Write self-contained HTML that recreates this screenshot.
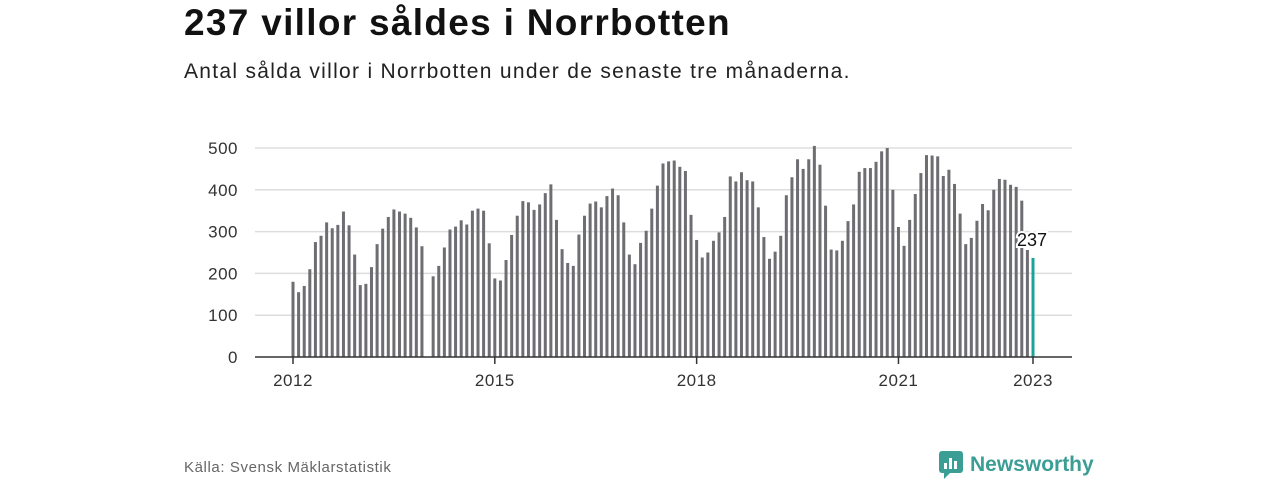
<!DOCTYPE html>
<html><head><meta charset="utf-8"><style>
body{margin:0;width:1280px;height:480px;background:#fff;font-family:"Liberation Sans",sans-serif;overflow:hidden;position:relative}
.t{position:absolute;left:184px;top:2px;font-size:37px;font-weight:bold;color:#111;letter-spacing:1.3px}
.s{position:absolute;left:184px;top:60px;font-size:21px;color:#222;letter-spacing:1.3px}
.src{position:absolute;left:184px;top:459px;font-size:15px;color:#666;letter-spacing:0.6px}
</style></head><body>
<div class="t">237 villor såldes i Norrbotten</div>
<div class="s">Antal sålda villor i Norrbotten under de senaste tre månaderna.</div>
<svg id="c" width="1280" height="480" style="position:absolute;left:0;top:0"></svg>
<div class="src">Källa: Svensk Mäklarstatistik</div>
<div style="position:absolute;left:938px;top:450px;display:flex;align-items:center">
<svg width="26" height="30"><rect x="1" y="1" width="24" height="22" rx="3" fill="#3a9e95"/><path d="M6 23 L6 29 L12 23Z" fill="#3a9e95"/><rect x="6" y="13" width="3" height="6" fill="#fff"/><rect x="11" y="8" width="3" height="11" fill="#fff"/><rect x="16" y="11" width="3" height="8" fill="#fff"/></svg>
<span style="font-size:21px;font-weight:bold;color:#3a9e95;margin-left:6px">Newsworthy</span></div>
<script>
const values2012=[180,155,170,210,275,290,322,308,316,348,315,245];
const values2013=[172,175,215,270,307,335,353,348,343,333,310,265];
const values2014=[null,193,218,262,305,312,327,317,350,355,350,272];
const values2015=[188,183,232,292,338,373,370,352,365,392,413,328];
const values2016=[258,225,218,293,338,367,372,358,385,403,387,322];
const values2017=[245,222,273,302,355,410,463,468,470,455,445,340];
const values2018=[280,238,250,278,298,335,432,420,442,423,420,358];
const values2019=[287,235,252,290,387,430,473,450,473,505,460,362];
const values2020=[257,255,278,325,365,443,452,452,467,492,500,400];
const values2021=[311,266,328,390,440,483,482,480,433,448,414,343];
const values2022=[270,285,326,366,351,400,426,424,412,407,374,256];
const values2023=[237];
const yTicks=[0,100,200,300,400,500];
const xTickYears=[2012,2015,2018,2021,2023];
const values=[].concat(values2012,values2013,values2014,values2015,values2016,values2017,values2018,values2019,values2020,values2021,values2022,values2023);
const svg=document.getElementById('c');const NS='http://www.w3.org/2000/svg';
const y=v=>357-v*0.418;
const x=i=>293+i*(740/132);
function mk(t,a){const e=document.createElementNS(NS,t);for(const k in a)e.setAttribute(k,a[k]);svg.appendChild(e);return e;}
yTicks.forEach(v=>{
 if(v>0){const g=mk('line',{x1:255,x2:1072,y1:y(v),y2:y(v),stroke:'#ddd','stroke-width':1.5});
 
 }
 const t=mk('text',{x:238,y:y(v)+6,'text-anchor':'end','font-size':17,fill:'#333','font-family':'Liberation Sans','letter-spacing':0.5});t.textContent=v;
 
 
});
values.forEach((v,i)=>{if(v==null)return;
 const last=i===values.length-1;
 const r=mk('rect',{x:x(i)-1.5,y:y(v),width:3,height:357-y(v),fill:last?'#1aa39a':'#6d6d72'});
 
 
});
const ax=mk('line',{x1:255,x2:1072,y1:357,y2:357,stroke:'#333','stroke-width':1.5});


xTickYears.forEach(yr=>{const i=(yr-2012)*12;
 const tk=mk('line',{x1:x(i),x2:x(i),y1:357,y2:364,stroke:'#333','stroke-width':1.5});
 
 
 const t=mk('text',{x:x(i),y:386,'text-anchor':'middle','font-size':17,fill:'#333','font-family':'Liberation Sans','letter-spacing':0.5});t.textContent=yr;
 
 
});
const li=values.length-1;
const lb=mk('text',{x:x(li)-1,y:y(values[li])-12,'text-anchor':'middle','font-size':18,fill:'#111','font-family':'Liberation Sans',stroke:'#fff','stroke-width':4,'paint-order':'stroke'});
lb.textContent=values[li];


</script>
</body></html>
